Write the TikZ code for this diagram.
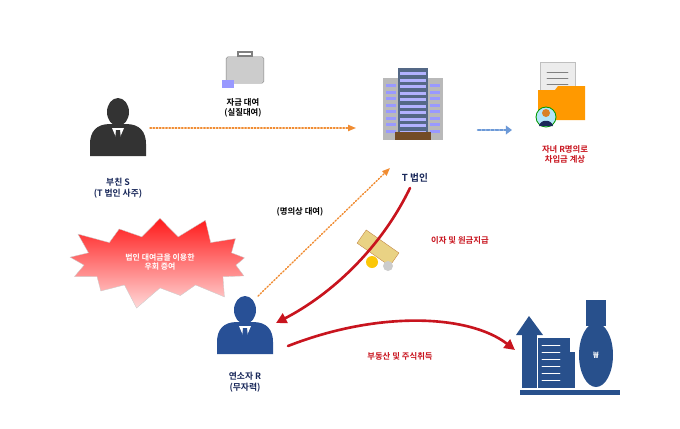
\documentclass[tikz,border=0pt]{standalone}
\usepackage{fontspec}
\setmainfont{Noto Sans CJK KR}[BoldFont={* Bold}]
\usetikzlibrary{arrows.meta,shapes.symbols,shapes.geometric,positioning}
\definecolor{navy}{RGB}{25,40,90}
\definecolor{darkred}{RGB}{200,20,30}
\definecolor{lineorange}{RGB}{240,140,50}
\definecolor{iconblue}{RGB}{40,80,140}
\definecolor{personblue}{RGB}{40,80,150}
\newcommand{\personicon}[2]{%
	\fill[#2] (#1) ++(0,-8) ellipse (11 and 14);
	\fill[#2] (#1) ++(-28,36) -- ++(0,-12) .. controls ++(0,-12) and ++(-14,0) .. ++(20,-20)
		-- ++(16,0) .. controls ++(14,0) and ++(0,-12) .. ++(20,20) -- ++(0,12) -- cycle;
	\fill[white] (#1) ++(-6,8) -- ++(6,14) -- ++(6,-14) -- cycle;
	\fill[#2] (#1) ++(-2,10) -- ++(4,0) -- ++(1,10) -- ++(-3,4) -- ++(-3,-4) -- cycle;}
\begin{document}
\begin{tikzpicture}
		[x=0.04cm,y=-0.04cm,line cap=round,
		%Styles
		name text/.style={font=\bfseries\fontsize{10}{12}\selectfont,text=navy,align=center},
		red text/.style={font=\bfseries\fontsize{9.5}{11.5}\selectfont,text=darkred,align=center},
		black text/.style={font=\bfseries\fontsize{9.5}{11.5}\selectfont,align=center},
		dotted arrow/.style={lineorange,line width=1.6pt,dotted,-{Triangle[width=7pt,length=9pt,fill=lineorange]}},
		curve arrow/.style={darkred,line width=3pt,-{Triangle[width=12pt,length=12pt]}}
		]
		\useasboundingbox (0,0) rectangle (680,428);
		
		%Father S
		\coordinate (S) at (118,120);
		\personicon{S}{black!80}
		\node[name text] (Slabel) at (118,188) {부친 S\\(T 법인 사주)};
		
		%Briefcase
		\node[draw=gray,fill=gray!40,rounded corners=2pt,minimum width=43pt,minimum height=30pt] (case) at (245,70) {};
		\draw[gray,line width=1.5pt] (238,56) rectangle (252,52);
		\fill[blue!40] (222,80) rectangle (234,88);
		\node[black text] (loan) at (243,108) {자금 대여\\(실질대여)};
		
		%Building
		\fill[gray!55] (383,78) rectangle (443,140);
		\fill[iconblue!50!gray] (398,68) rectangle (428,140);
		\foreach \i in {0,...,9}
			\fill[white!70!blue] (400,72+6.5*\i) rectangle (426,75+6.5*\i);
		\foreach \i in {0,...,7}{
			\fill[white!60!blue] (386,84+6.5*\i) rectangle (396,87+6.5*\i);
			\fill[white!60!blue] (430,84+6.5*\i) rectangle (440,87+6.5*\i);}
		\fill[brown!60!black] (395,132) rectangle (431,140);
		\node[name text,font=\bfseries\fontsize{11}{13}\selectfont] (Tlabel) at (415,178) {T 법인};
		
		%Folder
		\fill[gray!15,draw=gray!50] (540,62) rectangle (575,108);
		\foreach \i in {0,...,2} \draw[gray,line width=1pt] (547,72+6*\i) -- (568,72+6*\i);
		\fill[orange!80!yellow] (538,90) -- (555,90) -- (558,86) -- (585,86) -- (585,120) -- (538,120) -- cycle;
		\fill[cyan!30,draw=green!60!black,line width=1pt] (546,117) circle (10);
		\fill[orange!40!brown] (546,113) circle (4);
		\fill[navy] (539,126) .. controls (540,119) and (552,119) .. (553,126) -- cycle;
		\node[red text] (folder) at (565,154) {자녀 R명의로\\차입금 계상};
		\coordinate (fin) at (478,130);
		\coordinate (fout) at (512,130);
		\draw[cyan!50!blue!60,line width=3pt,dotted,-{Triangle[width=10pt,length=7pt]}] (fin) -- (fout);
		
		%Star burst
		\node[starburst,starburst points=13,starburst point height=28pt,draw=gray!40,
			minimum width=230pt,minimum height=115pt,top color=red!90,bottom color=red!15,
			align=center,text=white,font=\bfseries\fontsize{9}{11}\selectfont] (burst) at (160,262)
			{법인 대여금을 이용한\\우회 증여};
		
		%Person R
		\coordinate (R) at (245,318);
		\personicon{R}{personblue}
		\node[name text] (Rlabel) at (245,382) {연소자 R\\(무자력)};
		
		%Money
		\fill[yellow!40!brown!60,draw=brown,rotate around={-35:(378,248)}] (358,240) rectangle (398,256);
		\fill[yellow!60!orange] (372,262) circle (6);
		\fill[gray!40] (388,266) circle (5);
		
		%Asset icon
		\fill[iconblue] (520,390) rectangle (620,395);
		\fill[iconblue] (522,388) rectangle (537,330);
		\fill[iconblue] (516,335) -- (529,316) -- (543,335) -- cycle;
		\fill[iconblue] (538,388) rectangle (570,338);
		\fill[iconblue] (563,388) rectangle (575,352);
		\foreach \i in {0,...,5} \draw[white,line width=1pt] (542,345+7*\i) -- (560,345+7*\i);
		\fill[iconblue] (596,355) ellipse (17 and 32);
		\fill[iconblue] (586,300) rectangle (606,326);
		\node[text=white,font=\bfseries\fontsize{10}{12}\selectfont] (won) at (596,355) {₩};
		\coordinate (asset) at (515,350);
		
		%Arrows
		\draw[dotted arrow] (150,128) -- (356,128);
		\draw[dotted arrow] (258,296) -- (390,168);
		\node[black text] (nominal) at (300,212) {(명의상 대여)};
		\coordinate (Tbottom) at (410,188);
		\coordinate (Rright) at (276,323);
		\draw[curve arrow] (Tbottom) .. controls (380,250) and (330,295) .. (Rright);
		\node[red text] (pay) at (460,240) {이자 및 원금지급};
		\coordinate (Rout) at (288,346);
		\draw[curve arrow] (Rout) .. controls (380,310) and (470,315) .. (asset);
		\node[red text] (buy) at (400,356) {부동산 및 주식취득};
\end{tikzpicture}
\end{document}
